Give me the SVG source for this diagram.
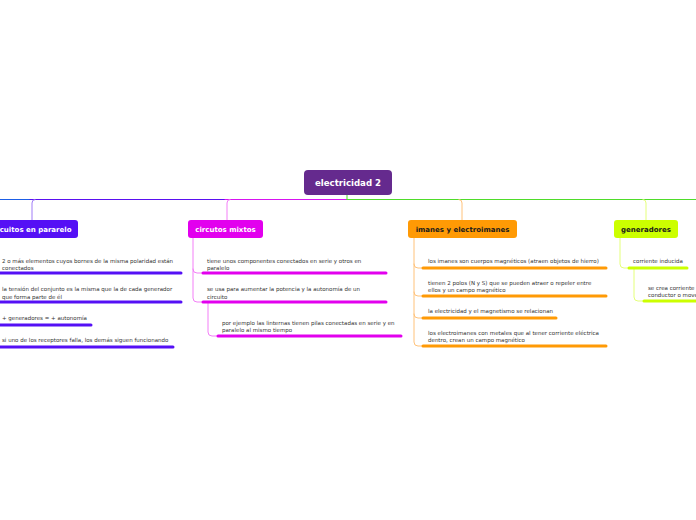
<svg xmlns="http://www.w3.org/2000/svg" width="696" height="520" viewBox="0 0 696 520">
<style>
.t{font-family:"DejaVu Sans",Verdana,sans-serif;font-size:5.5px;fill:#333}
.n{font-family:"DejaVu Sans",Verdana,sans-serif;font-size:7px;font-weight:bold;text-anchor:middle}
.c{fill:none;stroke-width:1;stroke-linecap:round;stroke-linejoin:round}
.u{fill:none;stroke-width:3;stroke-linecap:round}
</style>
<rect width="696" height="520" fill="#fff"/>
<g id="connectors">
<path class="c" d="M0 199.5H30" stroke="#1d5ee6"/>
<path class="c" d="M30 199.5H225" stroke="#5a10f0"/>
<path class="c" d="M225 199.5H347" stroke="#d714f0"/>
<path class="c" d="M347 199.5H696" stroke="#4fdc2a"/>
<path class="c" d="M347 195V199.5" stroke="#4fdc2a"/>
<path class="c" d="M35 199.5Q32 199.5 32 203V220" stroke="#a07cf7"/>
<path class="c" d="M230 199.5Q227 199.5 227 203V220" stroke="#f37ff7"/>
<path class="c" d="M459 199.5Q462 199.5 462 203V220" stroke="#ffc27a"/>
<path class="c" d="M643 199.5Q646 199.5 646 203V220" stroke="#e4ff7a"/>
<path class="c" d="M193 238V269Q193 273 197 273H202M193 269V298Q193 302 197 302H202" stroke="#f37ff7"/>
<path class="c" d="M208 302V332Q208 336 212 336H217" stroke="#f37ff7"/>
<path class="c" d="M414 238V264Q414 268 418 268H422M414 264V292Q414 296 418 296H422M414 292V314Q414 318 418 318H422M414 314V342Q414 346 418 346H422" stroke="#ffc27a"/>
<path class="c" d="M620 238V264Q620 268 624 268H628" stroke="#e4ff7a"/>
<path class="c" d="M634 268V297Q634 301 638 301H643" stroke="#e4ff7a"/>
<path class="u" d="M0 273H181M0 302H181M0 325H91M0 347H173" stroke="#5510f5"/>
<path class="u" d="M203 273H386M203 302H386M218 336H401" stroke="#e200ee"/>
<path class="u" d="M423 268H606M423 296H606M423 318H556M423 346H606" stroke="#ff9a05"/>
<path class="u" d="M629 268H687M644 301H700" stroke="#ccff00"/>
</g>
<g id="center">
<rect x="304" y="170" width="88" height="25" rx="4" fill="#652a8e"/>
<text class="n" x="348" y="185.8" fill="#fff" style="font-size:8.6px">electricidad 2</text>
</g>
<g id="paralelo">
<rect x="-30" y="220" width="108" height="18" rx="3" fill="#5510f5"/>
<text class="n" x="71.5" y="231.6" fill="#fff" style="text-anchor:end">circuitos en pararelo</text>
<text class="t" x="2" y="263">2 o más elementos cuyos bornes de la misma polaridad están</text>
<text class="t" x="2" y="270">conectados</text>
<text class="t" x="2" y="291">la tensión del conjunto es la misma que la de cada generador</text>
<text class="t" x="2" y="299">que forma parte de él</text>
<text class="t" x="2" y="320">+ generadores = + autonomía</text>
<text class="t" x="2" y="342">si uno de los receptores falla, los demás siguen funcionando</text>
</g>
<g id="mixtos">
<rect x="188" y="220" width="75" height="18" rx="3" fill="#e200ee"/>
<text class="n" x="225.5" y="231.6" fill="#fff">circutos mixtos</text>
<text class="t" x="207" y="263">tiene unos componentes conectados en serie y otros en</text>
<text class="t" x="207" y="270">paralelo</text>
<text class="t" x="207" y="291">se usa para aumentar la potencia y la autonomía de un</text>
<text class="t" x="207" y="299">circuito</text>
<text class="t" x="222" y="325">por ejemplo las linternas tienen pilas conectadas en serie y en</text>
<text class="t" x="222" y="332">paralelo al mismo tiempo</text>
</g>
<g id="imanes">
<rect x="408" y="220" width="109" height="18" rx="3" fill="#ff9a05"/>
<text class="n" x="462.5" y="231.6" fill="#1a1a1a">imanes y electroimanes</text>
<text class="t" x="428" y="263">los imanes son cuerpos magnéticos (atraen objetos de hierro)</text>
<text class="t" x="428" y="285">tienen 2 polos (N y S) que se pueden atraer o repeler entre</text>
<text class="t" x="428" y="292">ellos y un campo magnético</text>
<text class="t" x="428" y="313">la electricidad y el magnetismo se relacionan</text>
<text class="t" x="428" y="335">los electroimanes con metales que al tener corriente eléctrica</text>
<text class="t" x="428" y="342">dentro, crean un campo magnético</text>
</g>
<g id="generadores">
<rect x="614" y="220" width="64" height="18" rx="3" fill="#ccff00"/>
<text class="n" x="646" y="231.6" fill="#1a1a1a">generadores</text>
<text class="t" x="633" y="263">corriente inducida</text>
<text class="t" x="648" y="290">se crea corriente</text>
<text class="t" x="648" y="297">conductor o move</text>
</g>
</svg>
